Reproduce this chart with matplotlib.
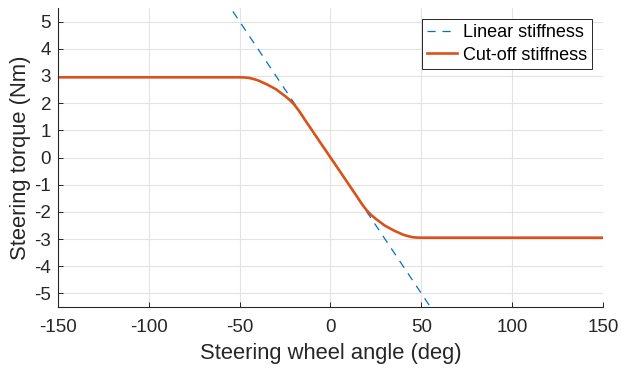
"""Steering torque versus steering wheel angle: linear vs cut-off stiffness."""

import matplotlib

matplotlib.use("Agg")
import matplotlib.pyplot as plt

# Linear stiffness reference line (deg -> Nm), clipped by the axes
linear_angle = [-150, 150]
linear_torque = [15.0, -15.0]

# Cut-off stiffness curve read at fixed angles
cutoff_angle = [-150, -50, -47.5, -45, -42.5, -40, -35, -30, -25, -22.5, -20, -17.5,
                -15, -12.5, -10, -5, 0, 5, 10, 12.5, 15, 17.5, 20, 22.5, 25, 30, 35,
                40, 42.5, 45, 47.5, 50, 150]
cutoff_torque = [2.95, 2.95, 2.945, 2.93, 2.89, 2.84, 2.69, 2.51, 2.26, 2.12, 1.95, 1.73,
                 1.48, 1.23, 0.985, 0.49, 0.0, -0.49, -0.985, -1.23, -1.48, -1.73, -1.95,
                 -2.12, -2.26, -2.51, -2.69, -2.84, -2.89, -2.93, -2.945, -2.95, -2.95]

x_ticks = [-150, -100, -50, 0, 50, 100, 150]
y_ticks = [-5, -4, -3, -2, -1, 0, 1, 2, 3, 4, 5]

plt.rcParams["font.family"] = ["Liberation Sans", "DejaVu Sans"]
text_color = "#262626"

fig = plt.figure(figsize=(6.21, 3.72), dpi=100)
ax = fig.add_axes([0.0934, 0.1747, 0.8776, 0.8038])

ax.plot(linear_angle, linear_torque, color="#0072BD", lw=0.9,
        ls=(0, (6.5, 5.5)), label="Linear stiffness")
ax.plot(cutoff_angle, cutoff_torque, color="#D95319", lw=1.9,
        label="Cut-off stiffness")

ax.set_xlim(-150, 150)
ax.set_ylim(-5.5, 5.5)
ax.set_xticks(x_ticks)
ax.set_yticks(y_ticks)
ax.set_xticklabels([str(v) for v in x_ticks])
ax.set_yticklabels([str(v) for v in y_ticks])

ax.grid(True, color="#e3e3e3", lw=0.8)
ax.set_axisbelow(True)
for side in ("top", "right"):
    ax.spines[side].set_visible(False)
for side in ("left", "bottom"):
    ax.spines[side].set_color(text_color)
    ax.spines[side].set_linewidth(0.8)

ax.tick_params(direction="in", length=3.5, width=0.7, colors=text_color,
               labelsize=13.5, pad=5)
ax.tick_params(axis="x", pad=8.5)
ax.set_xlabel("Steering wheel angle (deg)", fontsize=15.8, color=text_color,
              labelpad=5)
ax.set_ylabel("Steering torque (Nm)", fontsize=15.8, color=text_color,
              labelpad=2)

leg = ax.legend(loc="upper right", fontsize=13, fancybox=False,
                framealpha=1, edgecolor="#262626", handlelength=1.65,
                handletextpad=0.3, borderpad=0.3, labelspacing=0.3,
                borderaxespad=0.6)
leg.get_frame().set_linewidth(0.7)

fig.savefig("out.png", dpi=100)
